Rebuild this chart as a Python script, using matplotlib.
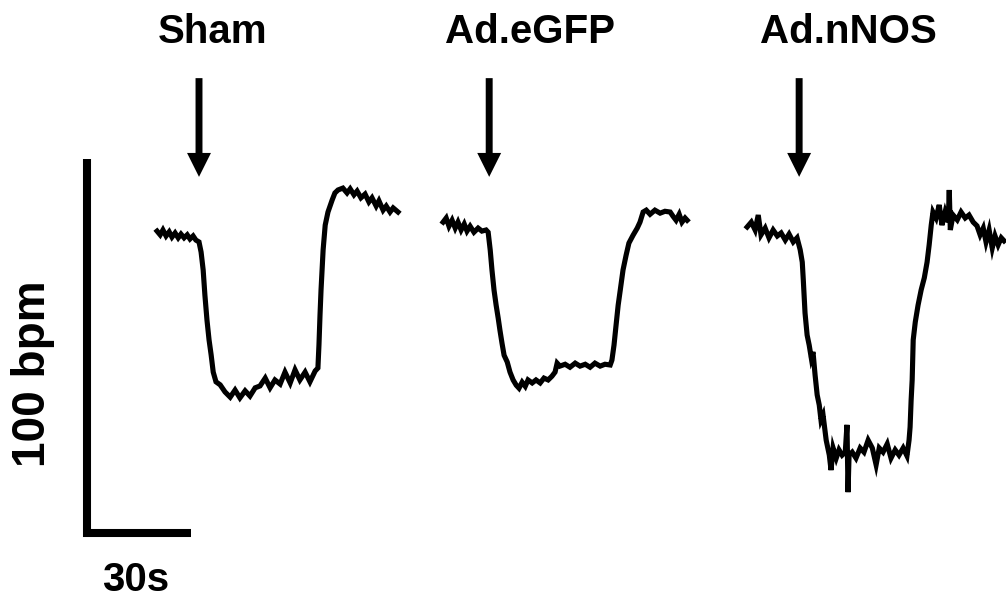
import matplotlib
matplotlib.use('Agg')
import matplotlib.pyplot as plt
from matplotlib.patches import FancyArrow
import numpy as np

plt.rcParams['font.family'] = ['Liberation Sans', 'DejaVu Sans']

# heart rate traces: time from start of trace (s), change in heart rate (bpm)
groups = ['Sham', 'Ad.eGFP', 'Ad.nNOS']

sham_t = [0, 0.9, 1.7, 2.6, 3.5, 4.3, 5.2, 6.1, 6.9, 7.8,
          8.7, 9.5, 10.4, 11.2, 12.1, 12.7, 13.3,
          13.8, 14.4, 15.0, 15.6, 16.2, 17.0, 18.2, 19.6, 21.1, 22.5,
          23.9, 25.4, 26.8, 28.3, 29.7, 31.2, 32.6, 34.0, 35.5, 36.9,
          38.4, 39.8, 41.2, 42.7, 44.1, 45.6, 46.4, 46.7, 47.0, 47.3,
          47.9, 48.5, 49.3, 50.5, 51.3, 52.2, 53.6, 54.8, 55.7, 56.8,
          57.7, 58.8, 60.0, 61.1, 62.0, 63.2, 64.0, 65.2, 66.1, 67.2,
          68.1, 69.5]
sham_hr = [0.5, -0.5, 0.8, -0.8, 0.3, -1.1, 0, -1.3, -0.3, -1.3,
           -0.5, -1.6, -0.8, -1.9, -2.4, -5.1, -9.9,
           -16.6, -23.3, -28.6, -32.6, -37.2, -39.8, -40.6, -42.5, -43.9, -42.0,
           -44.1, -42.2, -43.6, -41.4, -40.9, -38.8, -41.4, -39.3, -40.4, -37.2,
           -40.1, -36.6, -39.3, -37.2, -39.8, -36.9, -36.1, -29.9, -22.0, -15.2,
           -4.5, 2.1, 5.6, 8.8, 10.7, 11.5, 12.0, 10.7, 11.8, 10.2,
           11.2, 9.4, 10.4, 8.3, 9.4, 7.2, 8.6, 6.1, 7.2, 5.6,
           6.7, 5.6]

egfp_t = [0, 0.9, 1.7, 2.6, 3.5, 4.3, 5.2, 6.1, 6.9, 7.8,
          8.9, 10.1, 11.2, 12.4, 13.0, 13.6, 14.1, 14.7, 15.3, 15.9,
          16.4, 17.0, 17.6, 18.5, 19.3, 20.2, 21.1, 21.9, 22.8, 23.7,
          24.5, 25.7, 26.8, 28.0, 29.1, 30.3, 31.4, 32.3, 32.9, 33.7,
          35.2, 36.6, 38.1, 39.5, 41.0, 42.4, 43.8, 45.3, 46.7, 48.2,
          48.7, 49.3, 49.9, 50.5, 51.1, 51.9, 52.8, 53.6, 54.8, 56.0,
          56.8, 57.7, 58.6, 59.7, 61.1, 62.6, 64.0, 65.5, 66.3, 67.2,
          68.1, 68.9, 69.8, 70.4]
egfp_hr = [0, 1.1, -1.1, 0.5, -1.6, 0, -2.1, -0.5, -2.4, -1.1,
           -2.7, -1.6, -2.4, -2.1, -2.7, -7.5, -12.8, -18.2, -22.2, -25.7,
           -28.9, -32.4, -35.6, -37.4, -40.1, -42.2, -43.6, -44.4, -42.8, -43.9,
           -42.2, -43.0, -42.2, -43.0, -41.7, -42.2, -41.2, -40.1, -37.7, -38.5,
           -38.0, -38.8, -37.7, -38.5, -38.0, -38.8, -37.7, -38.5, -38.0, -38.2,
           -36.9, -32.9, -27.5, -22.2, -18.2, -12.8, -8.8, -5.6, -3.5, -1.6,
           0, 2.7, 3.2, 2.1, 3.2, 2.4, 2.9, 2.7, 1.6, 0.5,
           2.1, 0, 1.1, 0.5]

nnos_t = [0, 1.2, 2.3, 3.2, 4.0, 5.2, 6.3, 7.5, 8.7, 9.8,
          11.0, 12.1, 13.3, 14.4, 15.3, 15.9, 16.2, 16.7, 17.3, 17.9,
          18.5, 19.0, 19.6, 20.2, 20.8, 21.3, 21.9, 22.8, 23.7, 24.2,
          24.8, 25.7, 26.5, 27.4, 28.3, 28.8, 29.1, 29.4, 30.3, 31.4,
          32.6, 33.7, 34.9, 36.1, 37.2, 38.1, 39.2, 40.4, 41.5, 42.7,
          43.8, 45.0, 46.1, 46.7, 47.0, 47.3, 47.6, 47.9, 48.5, 49.3,
          50.2, 51.1, 51.9, 52.5, 53.1, 53.6, 54.5, 55.4, 56.2, 57.1,
          58.0, 58.3, 58.6, 59.4, 60.6, 61.7, 62.9, 64.0, 65.2, 66.3,
          67.2, 68.1, 68.9, 69.8, 70.7, 71.5, 72.4, 73.3, 74.1]
nnos_hr = [0, 1.3, -0.8, 3.2, -2.1, -0.3, -2.9, -0.8, -2.4, -1.6,
           -3.5, -1.9, -4.0, -2.9, -6.1, -9.4, -14.2, -23.0, -28.9, -31.6,
           -35.0, -33.4, -39.6, -44.9, -47.6, -51.6, -50.3, -57.0, -61.0, -65.0,
           -59.1, -61.8, -59.6, -61.0, -60.2, -52.9, -70.9, -61.0, -60.2, -61.8,
           -59.1, -60.2, -57.0, -59.1, -63.6, -59.1, -60.2, -58.0, -61.8, -59.6,
           -61.0, -59.1, -61.2, -57.0, -53.5, -46.3, -40.9, -30.2, -25.4, -20.9,
           -16.8, -13.6, -9.4, -4.8, 0.5, 4.0, 2.4, 5.9, 0.5, 4.0,
           1.3, 9.9, -0.8, 3.2, 1.9, 4.0, 2.4, 3.2, 1.3, 0.3,
           -2.1, -0.3, -4.0, -0.8, -5.6, -2.4, -4.8, -2.9, -3.7]

# time of injection marked by arrow (s from trace start)
stim_t = [12.1, 13.3, 15.0]

# scale bar
bar_sec = 30
bar_bpm = 100

# layout (data units: s, bpm)
trace_x0 = [45.3, 127.8, 215.5]
trace_y0 = [97.6, 100.5, 99.2]
title_x = [61.4, 152.9, 244.6]

fig = plt.figure(figsize=(10.06, 5.98), dpi=100)
ax = fig.add_axes([0, 0, 1, 1])
ax.set_xlim(0, 1006 / 3.467)
ax.set_ylim(0, 598 / 3.74)
ax.axis('off')

traces = [(sham_t, sham_hr), (egfp_t, egfp_hr), (nnos_t, nnos_hr)]
for i, (t, hr) in enumerate(traces):
    x = np.array(t) + trace_x0[i]
    y = np.array(hr) + trace_y0[i]
    ax.plot(x, y, color='black', lw=3.7, solid_joinstyle='miter')
    ax.text(title_x[i], 148.4, groups[i], ha='center', va='baseline',
            fontsize=29, fontweight='bold')
    ax.add_patch(FancyArrow(trace_x0[i] + stim_t[i], 139.0, 0, -26.4,
                            width=2.0, head_width=6.9, head_length=6.4,
                            length_includes_head=True, color='black', lw=0))

# scale bar
sx, sy = 25.1, 17.4
ax.plot([sx, sx, sx + bar_sec], [sy + bar_bpm, sy, sy], color='black', lw=5.8,
        solid_joinstyle='miter', solid_capstyle='butt')
ax.text(9.5, sy + bar_bpm / 2 - 7.5, '%d bpm' % bar_bpm, rotation=90, ha='center', va='center',
        fontsize=33, fontweight='bold')
ax.text(sx + 14, 2.0, '%ds' % bar_sec, ha='center', va='baseline',
        fontsize=29, fontweight='bold')

fig.savefig('out.png', dpi=100)
plt.close()
